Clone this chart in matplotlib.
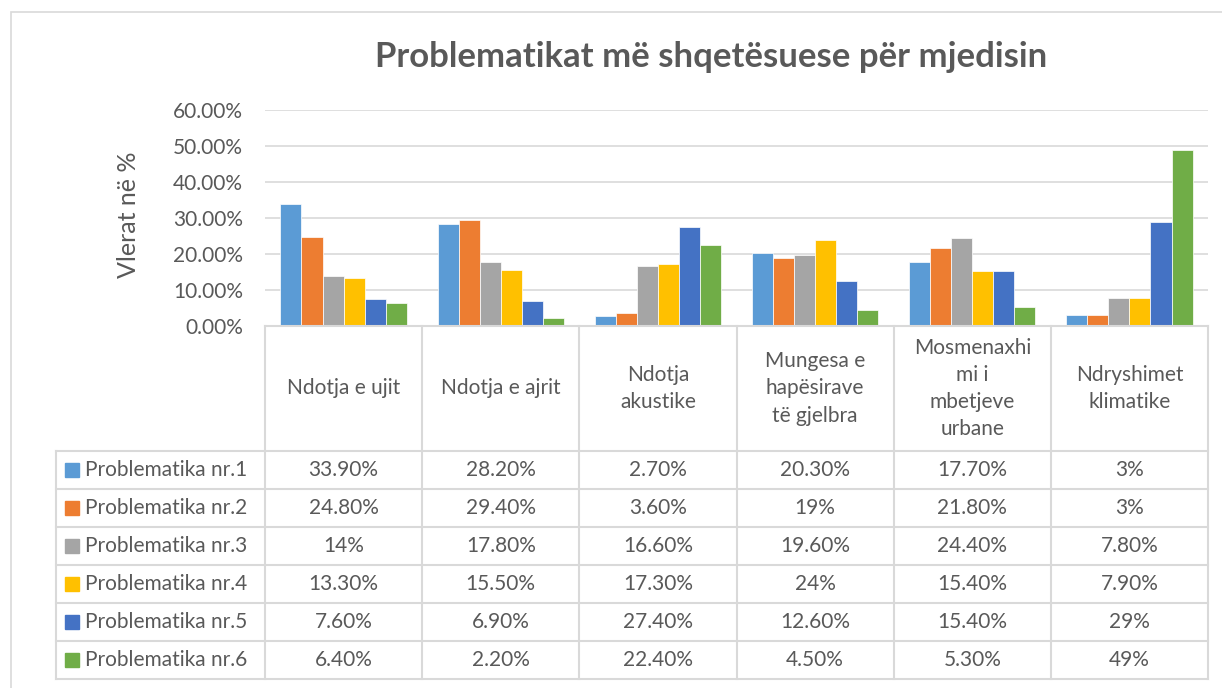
import matplotlib
matplotlib.use("Agg")
import matplotlib.pyplot as plt
from matplotlib.patches import Rectangle
from matplotlib.lines import Line2D
import numpy as np

plt.rcParams['font.family'] = ['Lato', 'DejaVu Sans']

# ---------------------------------------------------
# Data
# ---------------------------------------------------
categories = ["Ndotja e ujit", "Ndotja e ajrit", "Ndotja\nakustike",
              "Mungesa e\nhapësirave\ntë gjelbra", "Mosmenaxhi\nmi i\nmbetjeve\nurbane",
              "Ndryshimet\nklimatike"]
series_names = ["Problematika nr.1", "Problematika nr.2", "Problematika nr.3",
                "Problematika nr.4", "Problematika nr.5", "Problematika nr.6"]
nr1 = [33.9, 28.2, 2.7, 20.3, 17.7, 3]
nr2 = [24.8, 29.4, 3.6, 19, 21.8, 3]
nr3 = [14, 17.8, 16.6, 19.6, 24.4, 7.8]
nr4 = [13.3, 15.5, 17.3, 24, 15.4, 7.9]
nr5 = [7.6, 6.9, 27.4, 12.6, 15.4, 29]
nr6 = [6.4, 2.2, 22.4, 4.5, 5.3, 49]
series = [nr1, nr2, nr3, nr4, nr5, nr6]
colors = ["#5B9BD5", "#ED7D31", "#A5A5A5", "#FFC000", "#4472C4", "#70AD47"]
yticks = [0, 10, 20, 30, 40, 50, 60]

title = "Problematikat më shqetësuese për mjedisin"
ylabel = "Vlerat në %"

# ---------------------------------------------------
# Layout (pixels)
# ---------------------------------------------------
W, H = 1222, 688
text_col = "#595959"
grid_col = "#D9D9D9"
plot_l, plot_r = 265, 1208
plot_t, plot_b = 110, 326
header_b = 451
row_h = 38
leg_l = 56
fs = 15


def fx(px):
    return px / W


def fy(py):
    return 1 - py / H


fig = plt.figure(figsize=(W / 100, H / 100), dpi=100)

# outer chart border
fig.patches.append(Rectangle((fx(11), fy(700)), fx(1230) - fx(11), fy(12) - fy(700),
                             transform=fig.transFigure, fill=False,
                             edgecolor=grid_col, lw=1.2))

ax = fig.add_axes([fx(plot_l), fy(plot_b), fx(plot_r) - fx(plot_l), fy(plot_t) - fy(plot_b)])

n_cat = len(categories)
n_ser = len(series)
x = np.arange(n_cat)
bw = 0.134
for i, vals in enumerate(series):
    ax.bar(x + (i - (n_ser - 1) / 2) * bw, vals, width=bw, color=colors[i],
           edgecolor="white", linewidth=0.5, zorder=3)

ax.set_xlim(-0.5, n_cat - 0.5)
ax.set_ylim(0, 60)
ax.set_yticks(yticks)
ax.set_yticklabels([f"{t:.2f}%" for t in yticks], color=text_col, fontsize=fs)
ax.set_xticks([])
ax.tick_params(axis="y", length=0, pad=16)
ax.grid(axis="y", color=grid_col, lw=1.2, zorder=0)
for s in ax.spines.values():
    s.set_visible(False)

fig.text(fx(129), fy(215), ylabel, rotation=90, ha="center", va="center",
         color=text_col, fontsize=18)
fig.text(fx(711), fy(57), title, ha="center", va="center", color=text_col,
         fontsize=25, fontweight="bold")

# ---------------------------------------------------
# Data table
# ---------------------------------------------------
col_w = (plot_r - plot_l) / n_cat
table_b = header_b + row_h * n_ser


def hline(y, x0, x1):
    fig.add_artist(Line2D([fx(x0), fx(x1)], [fy(y), fy(y)], transform=fig.transFigure,
                          color=grid_col, lw=1.5))


def vline(x0, y0, y1):
    fig.add_artist(Line2D([fx(x0), fx(x0)], [fy(y0), fy(y1)], transform=fig.transFigure,
                          color=grid_col, lw=1.5))


hline(plot_b, plot_l, plot_r)
for r in range(n_ser + 1):
    hline(header_b + r * row_h, leg_l, plot_r)
for c in range(n_cat + 1):
    vline(plot_l + c * col_w, plot_b, table_b)
vline(leg_l, header_b, table_b)

for c, cat in enumerate(categories):
    fig.text(fx(plot_l + (c + 0.5) * col_w), fy((plot_b + header_b) / 2), cat,
             ha="center", va="center", color=text_col, fontsize=fs, linespacing=1.45)


def fmt(v):
    return f"{v:.0f}%" if float(v).is_integer() else f"{v:.2f}%"


for r, (name, vals) in enumerate(zip(series_names, series)):
    yc = header_b + (r + 0.5) * row_h
    fig.patches.append(Rectangle((fx(65), fy(yc + 7)), fx(14), fy(0) - fy(14),
                                 transform=fig.transFigure, color=colors[r]))
    fig.text(fx(85), fy(yc), name, ha="left", va="center", color=text_col, fontsize=fs)
    for c, v in enumerate(vals):
        fig.text(fx(plot_l + (c + 0.5) * col_w), fy(yc), fmt(v), ha="center",
                 va="center", color=text_col, fontsize=fs)

fig.savefig("out.png", dpi=100, facecolor="white")
